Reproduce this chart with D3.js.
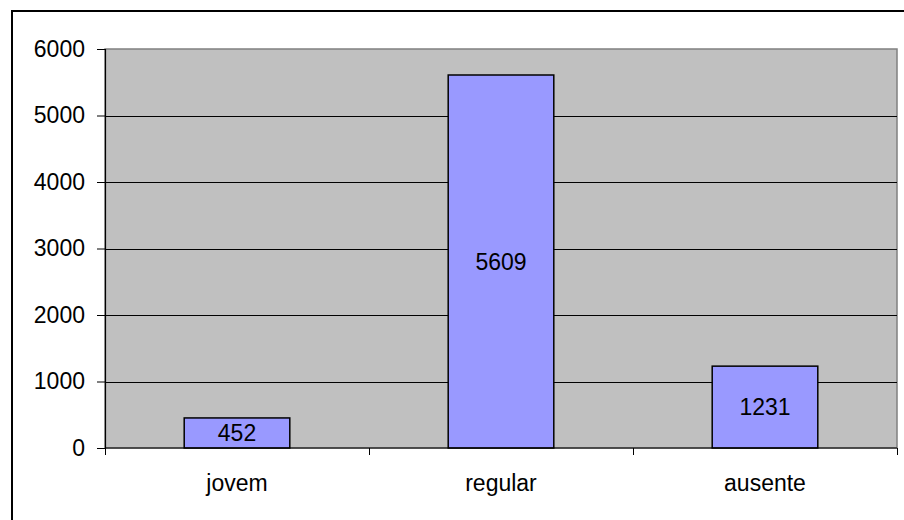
<!DOCTYPE html>
<html>
<head>
<meta charset="utf-8">
<script src="https://cdn.jsdelivr.net/npm/d3@7"></script>
<style>
  html, body { margin: 0; padding: 0; background: #ffffff; }
  svg { display: block; }
  text { font-family: "Liberation Sans", Arial, sans-serif; fill: #000; }
</style>
</head>
<body>
<svg id="chart" width="904" height="520"></svg>
<script>
// Category labels and counts
const categories = ["jovem", "regular", "ausente"];
const values = [452, 5609, 1231];
const yTicks = [0, 1000, 2000, 3000, 4000, 5000, 6000];

const svg = d3.select("#chart");
const W = 904, H = 520;
const plot = { left: 105, right: 897, top: 49, bottom: 448 };

// Outer frame
svg.append("rect")
  .attr("x", 12).attr("y", 11)
  .attr("width", W).attr("height", H)
  .attr("fill", "#fff").attr("stroke", "#000").attr("stroke-width", 2);

const x = d3.scaleBand()
  .domain(categories)
  .range([plot.left, plot.right])
  .paddingInner(0).paddingOuter(0);

const y = d3.scaleLinear()
  .domain([0, 6000])
  .range([plot.bottom, plot.top]);

// Plot background
svg.append("rect")
  .attr("x", plot.left).attr("y", plot.top)
  .attr("width", plot.right - plot.left).attr("height", plot.bottom - plot.top)
  .attr("fill", "#c0c0c0")
  .attr("stroke", "#808080").attr("stroke-width", 1.5);

// Horizontal gridlines
svg.append("g")
  .selectAll("line")
  .data(yTicks.filter(d => d > 0 && d < 6000))
  .join("line")
  .attr("x1", plot.left).attr("x2", plot.right)
  .attr("y1", d => Math.round(y(d)) + 0.5).attr("y2", d => Math.round(y(d)) + 0.5)
  .attr("stroke", "#000").attr("stroke-width", 1);

// Bars
const barW = x.bandwidth() * 0.4;
svg.append("g")
  .selectAll("rect")
  .data(values)
  .join("rect")
  .attr("x", (d, i) => x(categories[i]) + (x.bandwidth() - barW) / 2)
  .attr("y", d => y(d))
  .attr("width", barW)
  .attr("height", d => y(0) - y(d))
  .attr("fill", "#9999ff")
  .attr("stroke", "#000").attr("stroke-width", 1.5);

// Value labels centered inside bars
svg.append("g")
  .selectAll("text")
  .data(values)
  .join("text")
  .attr("x", (d, i) => x(categories[i]) + x.bandwidth() / 2)
  .attr("y", d => (y(d) + y(0)) / 2)
  .attr("text-anchor", "middle")
  .attr("dominant-baseline", "central")
  .attr("font-size", 23)
  .text(d => d);

// Y axis
const yAxis = d3.axisLeft(y)
  .tickValues(yTicks)
  .tickSize(8)
  .tickPadding(12)
  .tickFormat(d3.format("d"));
const gy = svg.append("g")
  .attr("transform", `translate(${plot.left},0)`)
  .call(yAxis);
gy.select(".domain").attr("stroke", "#000").attr("stroke-width", 1.2);
gy.selectAll(".tick line").attr("stroke", "#000");
gy.selectAll(".tick text")
  .attr("font-size", 23)
  .attr("font-family", "Liberation Sans, Arial, sans-serif")
  .attr("fill", "#000");

// X axis with ticks at category boundaries
const gx = svg.append("g")
  .attr("transform", `translate(0,${plot.bottom})`);
gx.append("line")
  .attr("x1", plot.left).attr("x2", plot.right)
  .attr("y1", 0).attr("y2", 0)
  .attr("stroke", "#000").attr("stroke-width", 1.2);
const bounds = categories.map(c => x(c)).concat([plot.right]);
gx.selectAll("line.tk")
  .data(bounds)
  .join("line")
  .attr("class", "tk")
  .attr("x1", d => Math.round(d) + 0.5).attr("x2", d => Math.round(d) + 0.5)
  .attr("y1", 0).attr("y2", 7)
  .attr("stroke", "#000");
gx.selectAll("text")
  .data(categories)
  .join("text")
  .attr("x", d => x(d) + x.bandwidth() / 2)
  .attr("y", 35)
  .attr("text-anchor", "middle")
  .attr("dominant-baseline", "central")
  .attr("font-size", 23)
  .text(d => d);
</script>
</body>
</html>
